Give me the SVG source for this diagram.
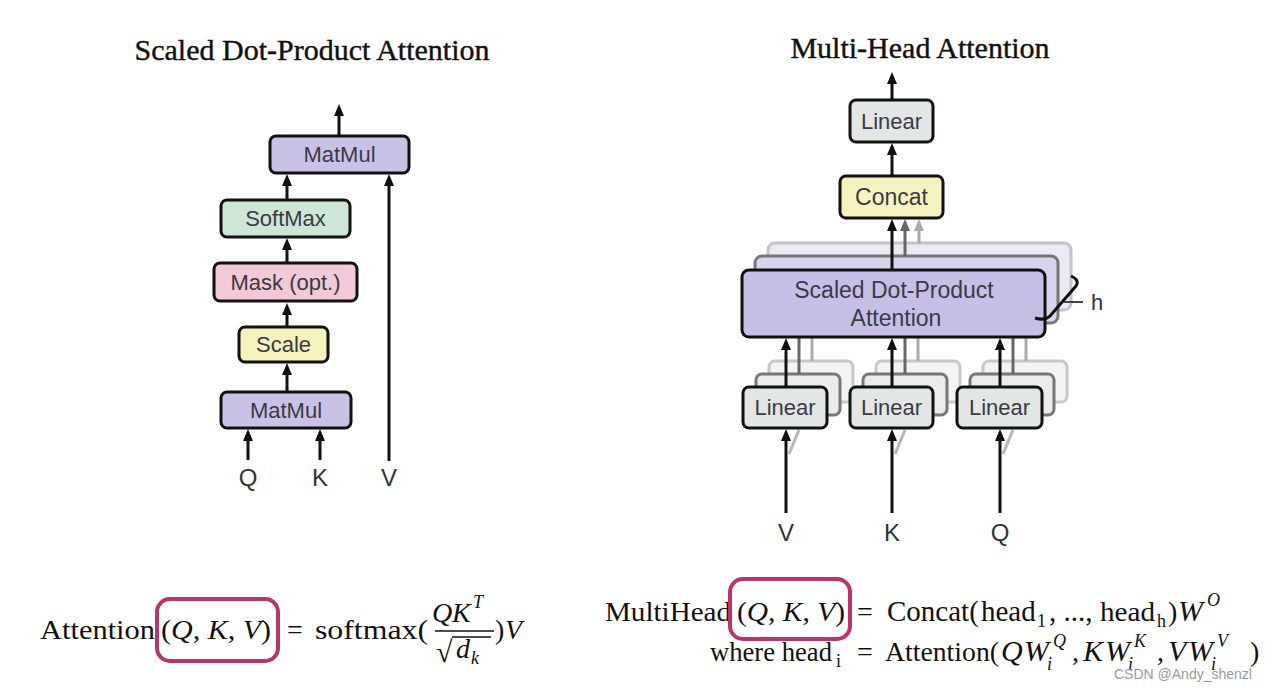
<svg xmlns="http://www.w3.org/2000/svg" width="1280" height="696" viewBox="0 0 1280 696">
<style>
.title{font-family:"Liberation Serif",serif;font-size:30px;fill:#111;stroke:#111;stroke-width:0.4;text-anchor:middle}
.box{stroke:#111;stroke-width:3}
.lbl{font-family:"Liberation Sans",Arial,sans-serif;font-size:22px;fill:#3a3a46;text-anchor:middle}
.io{font-family:"Liberation Sans",Arial,sans-serif;font-size:24px;fill:#333;text-anchor:middle}
.ar{stroke:#111;stroke-width:3;fill:none}
.m{font-family:"Liberation Serif",serif;font-size:28px;fill:#111}
.mi{font-family:"Liberation Serif",serif;font-size:30px;font-style:italic;fill:#111}
.ms{font-family:"Liberation Serif",serif;font-size:18px;fill:#111}
.it{font-style:italic}
.hl{fill:none;stroke:#b8346a;stroke-width:4}
.matmul{fill:#c9c2e5}.softmax{fill:#cde6d5}.mask{fill:#f2c9d7}.scale{fill:#f5f2bd}.linear{fill:#e2e6e4}.concat{fill:#f6f3c0}.sdpa{fill:#c6bfe6}
</style>
<defs>
<marker id="ah" viewBox="0 0 12 12" markerWidth="12" markerHeight="12" refX="6" refY="6" orient="auto" markerUnits="userSpaceOnUse"><path d="M0,1 L12,6 L0,11 z" fill="#111"/></marker>
<marker id="ah2" viewBox="0 0 12 12" markerWidth="12" markerHeight="12" refX="6" refY="6" orient="auto" markerUnits="userSpaceOnUse"><path d="M0,1 L12,6 L0,11 z" fill="#666"/></marker>
<marker id="ah3" viewBox="0 0 12 12" markerWidth="12" markerHeight="12" refX="6" refY="6" orient="auto" markerUnits="userSpaceOnUse"><path d="M0,1 L12,6 L0,11 z" fill="#aaa"/></marker>
</defs>
<rect width="1280" height="696" fill="#ffffff"/>

<text class="title" x="312" y="60">Scaled Dot-Product Attention</text>
<text class="title" x="920" y="58">Multi-Head Attention</text>

<!-- Left connectors -->
<g id="connectors-left">
<line class="ar" x1="248" y1="460" x2="248" y2="435" marker-end="url(#ah)"/>
<line class="ar" x1="320" y1="460" x2="320" y2="435" marker-end="url(#ah)"/>
<line class="ar" x1="389" y1="461" x2="389" y2="180" marker-end="url(#ah)"/>
<line class="ar" x1="287" y1="392" x2="287" y2="369" marker-end="url(#ah)"/>
<line class="ar" x1="287" y1="327" x2="287" y2="309" marker-end="url(#ah)"/>
<line class="ar" x1="287" y1="263" x2="287" y2="244" marker-end="url(#ah)"/>
<line class="ar" x1="287" y1="200" x2="287" y2="180" marker-end="url(#ah)"/>
<line class="ar" x1="339" y1="136" x2="339" y2="110" marker-end="url(#ah)"/>
</g>

<g id="matmul-top"><rect class="box matmul" x="270" y="136" width="139" height="37" rx="6"/><text class="lbl" x="339.5" y="162">MatMul</text></g>
<g id="softmax"><rect class="box softmax" x="221" y="200" width="129" height="37" rx="6"/><text class="lbl" x="285.5" y="226">SoftMax</text></g>
<g id="mask"><rect class="box mask" x="214" y="263" width="143" height="38" rx="6"/><text class="lbl" x="285.5" y="290">Mask (opt.)</text></g>
<g id="scale"><rect class="box scale" x="239" y="327" width="89" height="35" rx="6"/><text class="lbl" x="283.5" y="352">Scale</text></g>
<g id="matmul-bottom"><rect class="box matmul" x="221" y="392" width="130" height="36" rx="6"/><text class="lbl" x="286" y="418">MatMul</text></g>
<g id="left-inputs">
<text class="io" x="248" y="486">Q</text>
<text class="io" x="320" y="486">K</text>
<text class="io" x="389" y="486">V</text>
</g>

<!-- Right: stacked shadows -->
<g id="stack-shadows">
<rect x="768" y="243" width="303" height="67" rx="7" fill="#ece9f5" stroke="#c4c4c8" stroke-width="3"/>
<rect x="755" y="256" width="303" height="67" rx="7" fill="#d9d3ee" stroke="#777" stroke-width="3"/>
<rect x="769" y="361" width="84" height="41" rx="6" fill="#f3f5f4" stroke="#c8c8c8" stroke-width="3"/>
<rect x="756" y="374" width="84" height="41" rx="6" fill="#e9ecea" stroke="#777" stroke-width="3"/>
<rect x="876" y="361" width="84" height="41" rx="6" fill="#f3f5f4" stroke="#c8c8c8" stroke-width="3"/>
<rect x="863" y="374" width="84" height="41" rx="6" fill="#e9ecea" stroke="#777" stroke-width="3"/>
<rect x="983" y="361" width="84" height="41" rx="6" fill="#f3f5f4" stroke="#c8c8c8" stroke-width="3"/>
<rect x="970" y="374" width="84" height="41" rx="6" fill="#e9ecea" stroke="#777" stroke-width="3"/>
</g>

<g id="connectors-right">
<line class="ar" x1="892" y1="100" x2="892" y2="78" marker-end="url(#ah)"/>
<line class="ar" x1="892" y1="176" x2="892" y2="149" marker-end="url(#ah)"/>
<line x1="919" y1="244" x2="919" y2="225" stroke="#aaa" stroke-width="3" marker-end="url(#ah3)"/>
<line x1="905" y1="256" x2="905" y2="225" stroke="#666" stroke-width="3" marker-end="url(#ah2)"/>
<line class="ar" x1="892" y1="270" x2="892" y2="225" marker-end="url(#ah)"/>
<line x1="812" y1="361" x2="812" y2="337" stroke="#aaa" stroke-width="3"/>
<line x1="799" y1="374" x2="799" y2="337" stroke="#666" stroke-width="3"/>
<line x1="918" y1="361" x2="918" y2="337" stroke="#aaa" stroke-width="3"/>
<line x1="905" y1="374" x2="905" y2="337" stroke="#666" stroke-width="3"/>
<line x1="1026" y1="361" x2="1026" y2="337" stroke="#aaa" stroke-width="3"/>
<line x1="1013" y1="374" x2="1013" y2="337" stroke="#666" stroke-width="3"/>
<line class="ar" x1="786" y1="387" x2="786" y2="344" marker-end="url(#ah)"/>
<line class="ar" x1="892" y1="387" x2="892" y2="344" marker-end="url(#ah)"/>
<line class="ar" x1="1000" y1="387" x2="1000" y2="344" marker-end="url(#ah)"/>
<line x1="789" y1="454" x2="799" y2="430" stroke="#888" stroke-width="3" opacity="0.6"/>
<line x1="895" y1="454" x2="905" y2="430" stroke="#888" stroke-width="3" opacity="0.6"/>
<line x1="1003" y1="454" x2="1013" y2="430" stroke="#888" stroke-width="3" opacity="0.6"/>
<line class="ar" x1="786" y1="513" x2="786" y2="435" marker-end="url(#ah)"/>
<line class="ar" x1="892" y1="513" x2="892" y2="435" marker-end="url(#ah)"/>
<line class="ar" x1="1000" y1="513" x2="1000" y2="435" marker-end="url(#ah)"/>
</g>

<g id="linear-top"><rect class="box linear" x="850" y="100" width="83" height="42" rx="6"/><text class="lbl" x="891.5" y="129">Linear</text></g>
<g id="concat"><rect class="box concat" x="840" y="176" width="103" height="42" rx="6"/><text class="lbl" x="891.5" y="205" style="font-size:23px">Concat</text></g>
<g id="sdpa">
<rect class="box sdpa" x="742" y="270" width="303" height="67" rx="7"/>
<text class="lbl" x="894" y="298" style="font-size:23px">Scaled Dot-Product</text>
<text class="lbl" x="896" y="326" style="font-size:23px">Attention</text>
</g>
<g id="h-brace">
<path d="M1071,276 Q1080,280 1076,286 L1050,316 Q1045,321 1035,318" fill="none" stroke="#111" stroke-width="3"/>
<line x1="1064" y1="302" x2="1083" y2="302" stroke="#444" stroke-width="2"/>
<text class="io" x="1097" y="310" style="font-size:22px">h</text>
</g>
<g id="linear-v"><rect class="box linear" x="743" y="387" width="84" height="41" rx="6"/><text class="lbl" x="785" y="415">Linear</text></g>
<g id="linear-k"><rect class="box linear" x="850" y="387" width="83" height="41" rx="6"/><text class="lbl" x="891.5" y="415">Linear</text></g>
<g id="linear-q"><rect class="box linear" x="957" y="387" width="85" height="41" rx="6"/><text class="lbl" x="999.5" y="415">Linear</text></g>
<g id="right-inputs">
<text class="io" x="786" y="541">V</text>
<text class="io" x="892" y="541">K</text>
<text class="io" x="1000" y="541">Q</text>
</g>

<!-- Left formula -->
<g id="formula-attention">
<text class="m" x="40" y="639" textLength="115" lengthAdjust="spacingAndGlyphs">Attention</text>
<text class="m" x="161" y="639" textLength="110" lengthAdjust="spacingAndGlyphs">(<tspan class="it">Q</tspan>, <tspan class="it">K</tspan>, <tspan class="it">V</tspan>)</text>
<text class="m" x="287" y="639">=</text>
<text class="m" x="315" y="639" textLength="113" lengthAdjust="spacingAndGlyphs">softmax(</text>
<text class="m it" x="432" y="622">Q</text>
<text class="m it" x="452" y="622">K</text>
<text class="ms it" x="473" y="608">T</text>
<line x1="435" y1="631" x2="494" y2="631" stroke="#111" stroke-width="1.4"/>
<text class="m" x="436" y="662" style="font-size:30px">√</text>
<line x1="452" y1="637" x2="491" y2="637" stroke="#111" stroke-width="1.4"/>
<text class="m it" x="456" y="658">d</text>
<text class="ms it" x="471" y="664">k</text>
<text class="m" x="495" y="639">)</text>
<text class="m it" x="505" y="639">V</text>
<rect class="hl" x="157" y="599" width="121" height="62" rx="13"/>
</g>

<!-- Right formula -->
<g id="formula-multihead">
<text class="m" x="605" y="621" textLength="126" lengthAdjust="spacingAndGlyphs">MultiHead</text>
<text class="m" x="737" y="621" textLength="108" lengthAdjust="spacingAndGlyphs">(<tspan class="it">Q</tspan>, <tspan class="it">K</tspan>, <tspan class="it">V</tspan>)</text>
<text class="m" x="857" y="621">=</text>
<text class="m" x="887" y="621" style="font-size:29px">Concat(</text>
<text class="m" x="981" y="621" style="font-size:29px">head</text>
<text class="ms" x="1037" y="627">1</text>
<text class="m" x="1049" y="621" style="font-size:29px">, ..., </text>
<text class="m" x="1100" y="621" textLength="55" lengthAdjust="spacingAndGlyphs">head</text>
<text class="ms" x="1157" y="627">h</text>
<text class="m" x="1168" y="621">)</text>
<text class="mi" x="1178" y="621">W</text>
<text class="ms it" x="1207" y="606">O</text>
<rect class="hl" x="730" y="579" width="120" height="60" rx="13"/>
<text class="m" x="710" y="661" textLength="122" lengthAdjust="spacingAndGlyphs">where head</text>
<text class="ms" x="836" y="667">i</text>
<text class="m" x="857" y="661">=</text>
<text class="m" x="885" y="661" textLength="114" lengthAdjust="spacingAndGlyphs">Attention(</text>
<text class="mi" x="1001" y="661">Q</text>
<text class="mi" x="1024" y="661">W</text>
<text class="ms it" x="1053" y="647">Q</text>
<text class="ms it" x="1047" y="670">i</text>
<text class="m" x="1072" y="661">,</text>
<text class="mi" x="1083" y="661">K</text>
<text class="mi" x="1105" y="661">W</text>
<text class="ms it" x="1134" y="647">K</text>
<text class="ms it" x="1128" y="670">i</text>
<text class="m" x="1157" y="661">,</text>
<text class="mi" x="1168" y="661">V</text>
<text class="mi" x="1188" y="661">W</text>
<text class="ms it" x="1217" y="647">V</text>
<text class="ms it" x="1211" y="670">i</text>
<text class="m" x="1250" y="661">)</text>
</g>

<text x="1114" y="679" style="font-family:'Liberation Sans',Arial,sans-serif;font-size:14px;fill:#9a9a9a">CSDN @Andy_shenzl</text>
</svg>
